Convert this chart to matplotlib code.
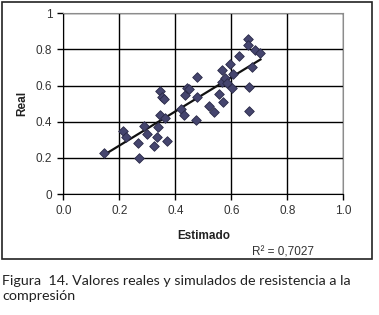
import numpy as np
import matplotlib
matplotlib.use("Agg")
import matplotlib.pyplot as plt
from matplotlib.patches import Rectangle

# %% Data
estimado = [0.146, 0.212, 0.223, 0.268, 0.270, 0.288, 0.299, 0.323, 0.335, 0.337,
            0.370, 0.347, 0.362, 0.347, 0.352, 0.358, 0.419, 0.430, 0.436, 0.441,
            0.450, 0.476, 0.474, 0.477, 0.521, 0.538, 0.557, 0.571, 0.568, 0.566,
            0.578, 0.584, 0.594, 0.601, 0.607, 0.626, 0.661, 0.661, 0.685, 0.704,
            0.674, 0.664, 0.662]
real = [0.229, 0.349, 0.317, 0.280, 0.201, 0.376, 0.330, 0.267, 0.317, 0.373,
        0.291, 0.435, 0.422, 0.572, 0.539, 0.524, 0.472, 0.439, 0.550, 0.587,
        0.579, 0.647, 0.410, 0.539, 0.485, 0.452, 0.552, 0.509, 0.686, 0.622,
        0.640, 0.613, 0.718, 0.588, 0.664, 0.765, 0.858, 0.825, 0.797, 0.779,
        0.705, 0.592, 0.459]
x_ticks = [0.0, 0.2, 0.4, 0.6, 0.8, 1.0]
x_tick_labels = ["0.0", "0.2", "0.4", "0.6", "0.8", "1.0"]
y_ticks = [0, 0.2, 0.4, 0.6, 0.8, 1]
y_tick_labels = ["0", "0.2", "0.4", "0.6", "0.8", "1"]
r2_text = "R² = 0,7027"
caption = "Figura  14. Valores reales y simulados de resistencia a la\ncompresión"

# %% Trend line
est = np.array(estimado)
rea = np.array(real)
m, b = np.polyfit(est, rea, 1)
xl = np.array([est.min(), est.max()])

# %% Plot
plt.rcParams["font.family"] = ["Liberation Sans", "DejaVu Sans"]
fig = plt.figure(figsize=(3.79, 3.15), dpi=100)

# chart area border
fig.patches.append(Rectangle((0.005, 0.178), 0.976, 0.816, transform=fig.transFigure,
                             fill=False, edgecolor="#222222", linewidth=1.2))

ax = fig.add_axes([0.167, 0.384, 0.739, 0.574])
ax.set_xlim(0, 1)
ax.set_ylim(0, 1)
ax.set_xticks(x_ticks)
ax.set_xticklabels(x_tick_labels, fontsize=8.5, color="#333333")
ax.set_yticks(y_ticks)
ax.set_yticklabels(y_tick_labels, fontsize=8.5, color="#333333")
ax.tick_params(direction="out", length=4, width=1, pad=4)
ax.grid(True, color="black", linewidth=1)
ax.set_axisbelow(True)
for s in ["top", "right"]:
    ax.spines[s].set_color("#8c8c8c")
for s in ["left", "bottom"]:
    ax.spines[s].set_color("black")

ax.plot(xl, m * xl + b, color="#111111", linewidth=1.6, zorder=2)
ax.scatter(est, rea, marker="D", s=24, facecolor="#45456e", edgecolor="#2a2a48",
           linewidth=0.6, zorder=3)

fig.text(0.058, 0.671, "Real", rotation=90, ha="center", va="center",
         fontsize=8.5, fontweight="bold", color="#222222")
fig.text(0.537, 0.251, "Estimado", ha="center", va="center",
         fontsize=8.5, fontweight="bold", color="#222222")
fig.text(0.665, 0.199, r2_text, ha="left", va="center", fontsize=8.5, color="#333333")

fig.text(0.006, 0.128, caption, ha="left", va="top", fontsize=10.3,
         family=["Lato", "DejaVu Sans"], color="#222222", linespacing=1.35)

fig.savefig("out.png", dpi=100)
